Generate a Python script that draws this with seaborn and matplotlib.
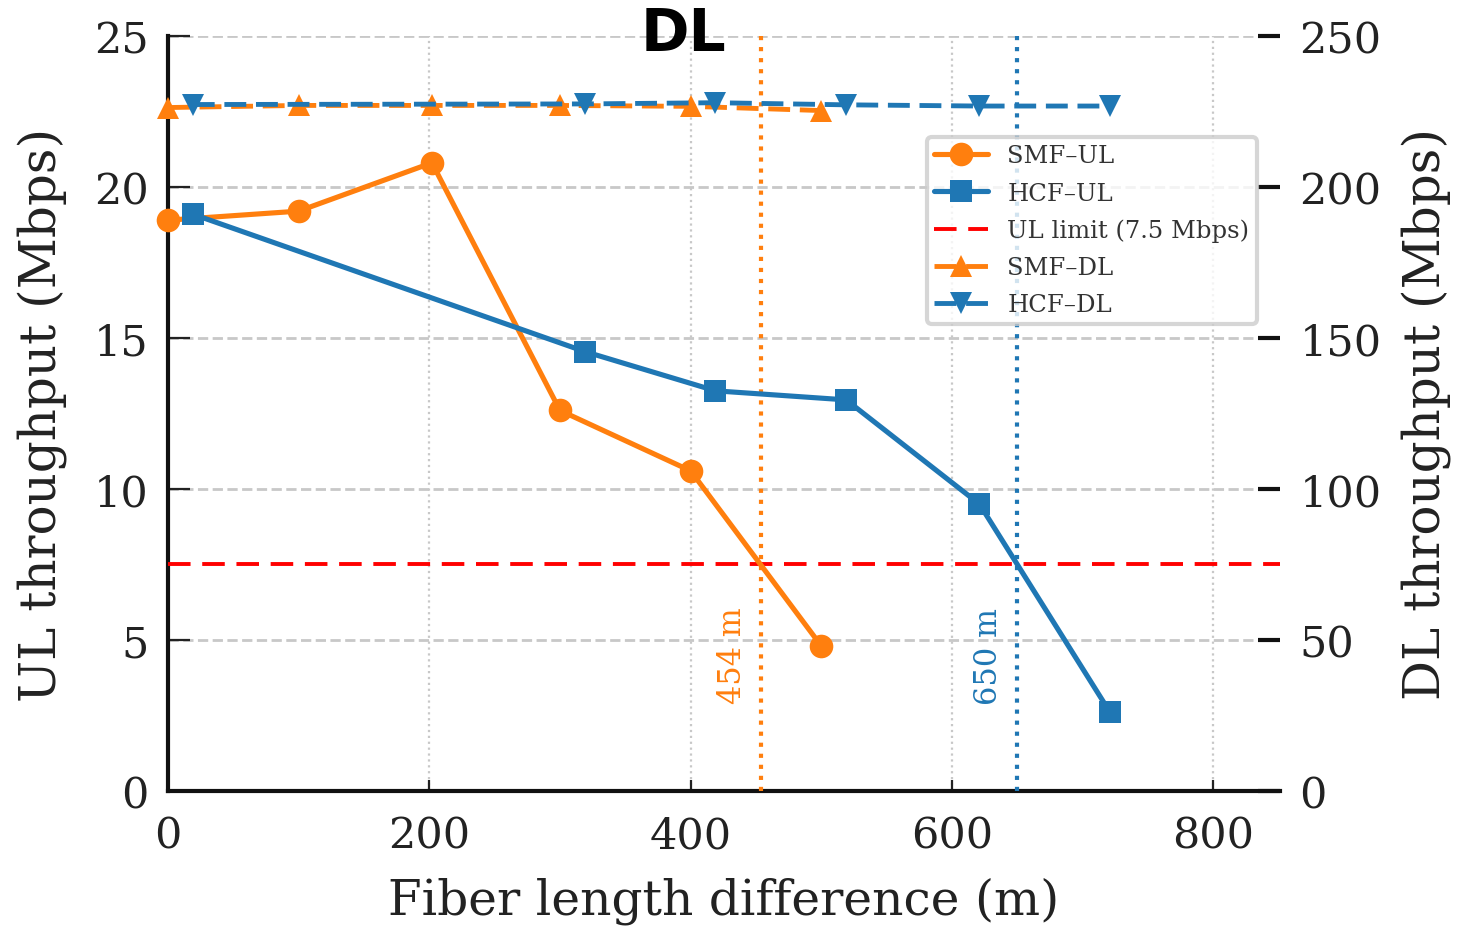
import numpy as np
import pandas as pd
import matplotlib
matplotlib.use("Agg")
import matplotlib.pyplot as plt
import seaborn as sns

# ---- data ----
smf_x = [0, 100, 202, 300, 400, 500]
smf_ul = [18.9, 19.2, 20.8, 12.6, 10.6, 4.8]
hcf_x = [19, 319, 419, 519, 621, 721]
hcf_ul = [19.1, 14.55, 13.25, 12.95, 9.5, 2.6]
smf_dl = [226.3, 227.0, 227.0, 227.0, 226.7, 225.3]
hcf_dl = [227.3, 227.5, 227.9, 227.2, 226.8, 226.8]
ul_limit = 7.5
smf_cross = 454
hcf_cross = 650

sns.set_theme(style="white")
plt.rcParams['font.family'] = ['DejaVu Serif']

ORANGE = '#ff7f0e'
BLUE = '#1f77b4'

fig = plt.figure(figsize=(14.58, 9.29), dpi=100)
ax = fig.add_axes([0.1152, 0.1475, 0.7627, 0.8127])
ax2 = ax.twinx()

sns.lineplot(x=smf_x, y=smf_ul, ax=ax, color=ORANGE, marker='o', markersize=17,
             markeredgewidth=0, linewidth=3.7, label='SMF\u2013UL', clip_on=False, zorder=4)
sns.lineplot(x=hcf_x, y=hcf_ul, ax=ax, color=BLUE, marker='s', markersize=15.5,
             markeredgewidth=0, linewidth=3.7, label='HCF\u2013UL', zorder=4)
hl = ax.axhline(ul_limit, color='red', linestyle=(0, (5.8, 3)), linewidth=2.8,
                label='UL limit (7.5 Mbps)', zorder=3)
ax.axvline(smf_cross, color=ORANGE, linestyle=':', linewidth=3, zorder=3)
ax.axvline(hcf_cross, color=BLUE, linestyle=':', linewidth=3, zorder=3)
ax.text(smf_cross - 22, 4.5, f'{smf_cross} m', rotation=90, color=ORANGE,
        fontsize=22, ha='center', va='center')
ax.text(hcf_cross - 22, 4.5, f'{hcf_cross} m', rotation=90, color=BLUE,
        fontsize=22, ha='center', va='center')

sns.lineplot(x=smf_x, y=smf_dl, ax=ax2, color=ORANGE, marker='^', markersize=16,
             markeredgewidth=0, linewidth=3.5, label='SMF\u2013DL', clip_on=False)
sns.lineplot(x=hcf_x, y=hcf_dl, ax=ax2, color=BLUE, marker='v', markersize=16,
             markeredgewidth=0, linewidth=3.5, label='HCF\u2013DL')
for ln in ax2.get_lines():
    ln.set_dashes((4.5, 2.0))

ax.set_xlim(0, 851)
ax.set_ylim(0, 25)
ax2.set_ylim(0, 250)
ax.set_xticks([0, 200, 400, 600, 800])
ax.set_yticks([0, 5, 10, 15, 20, 25])
ax2.set_yticks([0, 50, 100, 150, 200, 250])

ax.grid(axis='x', linestyle=':', color='#c8c8c8', linewidth=1.6)
ax.grid(axis='y', linestyle='--', color='#c8c8c8', linewidth=2)
ax.set_axisbelow(True)

for s in ['top', 'right']:
    ax.spines[s].set_visible(False)
for s in ['top', 'right', 'left', 'bottom']:
    ax2.spines[s].set_visible(False)
ax.spines['left'].set_linewidth(3)
ax.spines['bottom'].set_linewidth(3)
ax.spines['left'].set_color('#111111')
ax.spines['bottom'].set_color('#111111')

ax.tick_params(axis='both', direction='in', length=8, width=1.6, colors='#222222',
               labelsize=31, pad=10, left=True, bottom=True, labelcolor='#222222')
ax.tick_params(axis='x', pad=17)
ax.tick_params(axis='y', length=16, pad=14)
ax2.tick_params(axis='y', direction='in', length=16, width=3, colors='#111111',
                labelsize=31, pad=14, right=True, labelcolor='#222222')

ax.set_xlabel('Fiber length difference (m)', fontsize=35, color='#222222', labelpad=14)
ax.set_ylabel('UL throughput (Mbps)', fontsize=36, color='#222222', labelpad=19)
ax2.set_ylabel('DL throughput (Mbps)', fontsize=36, color='#222222', labelpad=14)

if ax.get_legend():
    ax.get_legend().remove()
if ax2.get_legend():
    ax2.get_legend().remove()
h1, l1 = ax.get_legend_handles_labels()
h2, l2 = ax2.get_legend_handles_labels()
leg = ax2.legend(h1 + h2, l1 + l2, loc='upper right', bbox_to_anchor=(0.979, 0.866),
                 fontsize=17.5, frameon=True, handlelength=2.2, labelspacing=0.58,
                 borderpad=0.3, handletextpad=0.8, borderaxespad=0, fancybox=True)
leg.get_frame().set_edgecolor('#cccccc')
leg.get_frame().set_linewidth(3)
for t in leg.get_texts():
    t.set_color('#333333')

fig.text(0.469, 0.963, 'DL', fontsize=42, fontweight='bold', family='DejaVu Sans',
         ha='center', va='center', color='black')

fig.savefig('out.png', dpi=100)
